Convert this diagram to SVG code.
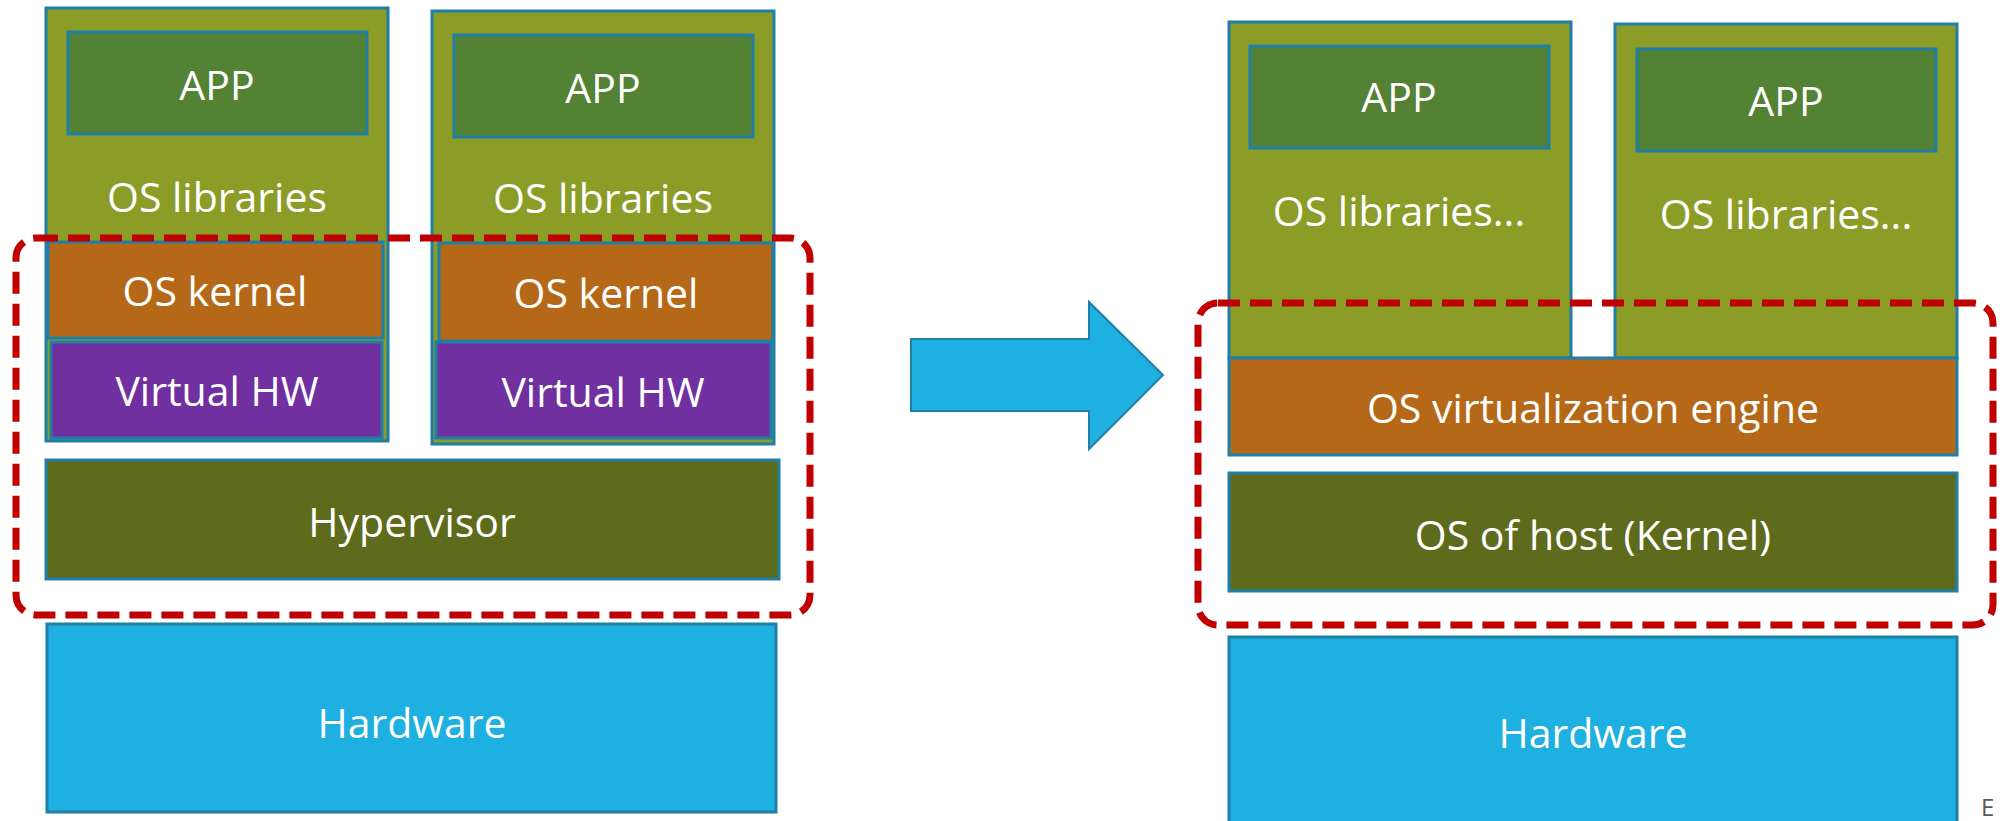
<svg xmlns="http://www.w3.org/2000/svg" width="2005" height="821" viewBox="0 0 2005 821">
  <style>
    .box { stroke: #1F7FA6; stroke-width: 3; }
    .container { fill: #8B9C27; }
    .app { fill: #548235; }
    .kernel { fill: #B56918; }
    .vhw { fill: #7030A0; }
    .base { fill: #5E6A1C; }
    .hw { fill: #1EB0E0; }
    .lbl { font-family: "Open Sans", "DejaVu Sans", sans-serif; font-size: 41px; fill: #FFFFFF; text-anchor: middle; }
    .zone { fill: none; stroke: #C00000; stroke-width: 7; stroke-dasharray: 22 10; }
  </style>

  <!-- Left stack: virtual machines -->
  <g id="vm1">
    <rect class="box container" x="46" y="8" width="342" height="433"/>
    <rect class="box app" x="68" y="32" width="299" height="102"/>
    <text class="lbl" x="217" y="100">APP</text>
    <text class="lbl" x="217" y="212">OS libraries</text>
    <rect class="box kernel" x="48" y="242" width="335" height="96"/>
    <text class="lbl" x="215" y="306">OS kernel</text>
    <rect class="box vhw" x="51" y="342" width="331" height="96"/>
    <text class="lbl" x="217" y="406">Virtual HW</text>
  </g>

  <g id="vm2">
    <rect class="box container" x="432" y="11" width="342" height="433"/>
    <rect class="box app" x="454" y="35" width="299" height="102"/>
    <text class="lbl" x="603" y="103">APP</text>
    <text class="lbl" x="603" y="213">OS libraries</text>
    <rect class="box kernel" x="439" y="243" width="334" height="98"/>
    <text class="lbl" x="606" y="308">OS kernel</text>
    <rect class="box vhw" x="436" y="342" width="335" height="96"/>
    <text class="lbl" x="603" y="407">Virtual HW</text>
  </g>

  <g id="hypervisor">
    <rect class="box base" x="46" y="460" width="733" height="119"/>
    <text class="lbl" x="412" y="537">Hypervisor</text>
  </g>

  <g id="hardware-left">
    <rect class="box hw" x="47" y="624" width="729" height="188"/>
    <text class="lbl" x="412" y="738">Hardware</text>
  </g>

  <!-- Right stack: containers -->
  <g id="container1">
    <rect class="box container" x="1229" y="22" width="342" height="336"/>
    <rect class="box app" x="1250" y="46" width="299" height="102"/>
    <text class="lbl" x="1399" y="112">APP</text>
    <text class="lbl" x="1399" y="226">OS libraries...</text>
  </g>

  <g id="container2">
    <rect class="box container" x="1615" y="24" width="342" height="334"/>
    <rect class="box app" x="1637" y="49" width="299" height="102"/>
    <text class="lbl" x="1786" y="116">APP</text>
    <text class="lbl" x="1786" y="229">OS libraries...</text>
  </g>

  <g id="virt-engine">
    <rect class="box kernel" x="1229" y="358" width="728" height="97"/>
    <text class="lbl" x="1593" y="423">OS virtualization engine</text>
  </g>

  <g id="host-os">
    <rect class="box base" x="1229" y="473" width="728" height="118"/>
    <text class="lbl" x="1593" y="550">OS of host (Kernel)</text>
  </g>

  <g id="hardware-right">
    <rect class="box hw" x="1229" y="637" width="728" height="190"/>
    <text class="lbl" x="1593" y="748">Hardware</text>
  </g>

  <!-- Connectors: transition arrow and dashed grouping outlines -->
  <g id="connectors">
    <path d="M911,339 H1089 V302 L1163,375 L1089,449 V411 H911 Z" fill="#1EB0E0" stroke="#1F7FA6" stroke-width="2"/>
    <rect class="zone" x="16" y="238" width="794" height="377" rx="20" ry="20"/>
    <rect class="zone" x="1198" y="303" width="795" height="322" rx="20" ry="20"/>
  </g>

  <text x="1981" y="816" font-family="Open Sans, DejaVu Sans, sans-serif" font-size="24" fill="#595959">E</text>
</svg>
